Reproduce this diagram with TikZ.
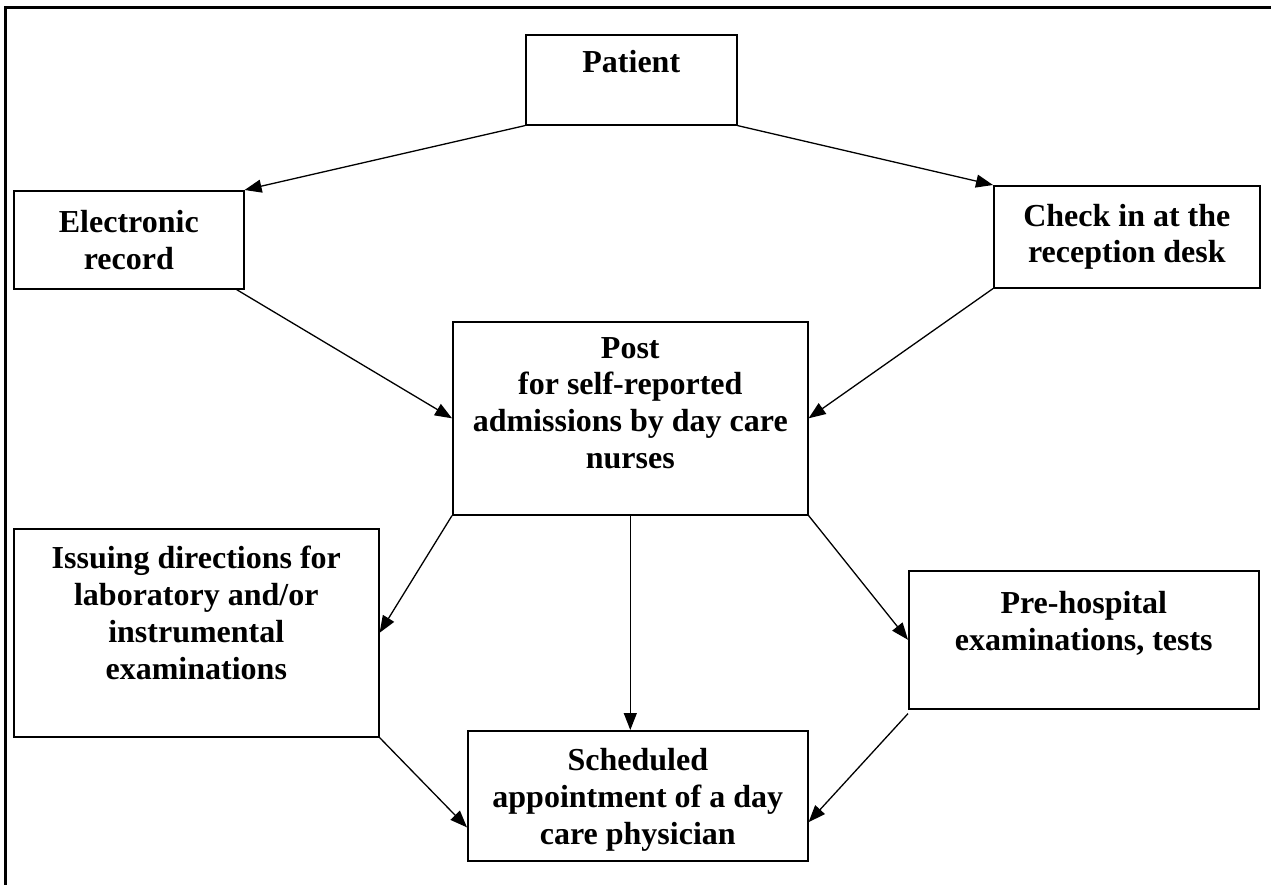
\documentclass[tikz,border=0pt]{standalone}
\usepackage{fontspec}
\setmainfont{Liberation Serif}
\usetikzlibrary{arrows.meta,calc}
\tikzset{
  box/.style={draw=black, line width=1.6pt, fill=white, inner sep=0pt, anchor=north west},
  boxtext/.style={font=\bfseries\fontsize{32}{36.8}\selectfont, align=center, inner sep=0pt},
  flow/.style={line width=1.3pt, -{Triangle[length=17pt,width=13pt]}},
  frame/.style={line width=3pt},
}
\begin{document}
\begin{tikzpicture}[x=1pt,y=-1pt]
\useasboundingbox (0,0) rectangle (1271,885);
% frame along the left and top edges
\draw[frame] (5.5,885) -- (5.5,8) -- (1271,8);

% boxes
\node[box, minimum width=211pt, minimum height=90pt]  (patient) at (525,34)  {};
\node[box, minimum width=230pt, minimum height=98pt]  (erecord) at (13,190)  {};
\node[box, minimum width=266pt, minimum height=102pt] (checkin) at (993,185) {};
\node[box, minimum width=355pt, minimum height=193pt] (post)    at (452,321) {};
\node[box, minimum width=365pt, minimum height=208pt] (issue)   at (13,528)  {};
\node[box, minimum width=350pt, minimum height=138pt] (prehosp) at (908,570) {};
\node[box, minimum width=340pt, minimum height=130pt] (sched)   at (467,730) {};

% box texts
\node[boxtext, anchor=north] (patient-t) at ($(patient.north)+(0,16)$) {Patient};
\node[boxtext] (erecord-t) at (erecord.center) {Electronic\\record};
\node[boxtext] (checkin-t) at (checkin.center) {Check in at the\\reception desk};
\node[boxtext, anchor=north] (post-t) at ($(post.north)+(0,16)$)
  {Post\\for self-reported\\admissions by day care\\nurses};
\node[boxtext, anchor=north] (issue-t) at ($(issue.north)+(0,18)$)
  {Issuing directions for\\laboratory and/or\\instrumental\\examinations};
\node[boxtext, anchor=north] (prehosp-t) at ($(prehosp.north)+(0,21)$)
  {Pre-hospital\\examinations, tests};
\node[boxtext, anchor=north] (sched-t) at ($(sched.north)+(0,18)$)
  {Scheduled\\appointment of a day\\care physician};

% connectors
\draw[flow] (patient.south west) -- (erecord.north east);
\draw[flow] (patient.south east) -- (checkin.north west);
\draw[flow] ($(erecord.south east)+(-8,0)$) -- (post.west);
\draw[flow] (checkin.south west) -- (post.east);
\draw[flow] (post.south west) -- (issue.east);
\draw[flow] (post.south) -- (post.south |- sched.north);
\draw[flow] (post.south east) -- (prehosp.west);
\draw[flow] ($(prehosp.south west)+(0,4)$) -- ($(sched.north east)!0.7!(sched.south east)$);
\draw[flow] (issue.south east) -- ($(sched.north west)!0.74!(sched.south west)$);
\end{tikzpicture}
\end{document}
